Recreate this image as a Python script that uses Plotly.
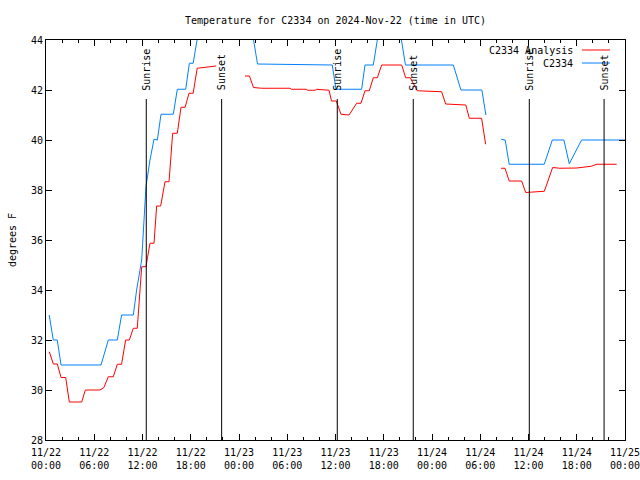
import pandas as pd
import plotly.graph_objects as go

BASE = pd.Timestamp("2024-11-22 00:00")

# hours since 2024-11-22 00:00 UTC, temperature in degrees F (None = gap)
analysis_hours = [0.41, 0.91, 1.41, 1.87, 2.45, 2.9, 4.44, 4.89, 6.71, 7.2, 7.75, 8.37, 8.87, 9.4, 9.9,
                  10.36, 10.86, 11.35, 11.9, 12.43, 12.93, 13.43, 13.76, 14.26, 14.8, 15.3, 15.75,
                  16.33, 16.79, 17.3, 17.78, 18.3, 18.8, 21.14, 22.0,
                  24.75, 25.3, 25.8, 26.8, 30.34, 30.5, 32.4, 32.5, 33.5, 33.6, 35.2, 35.5, 36.1,
                  36.68, 37.68, 38.63, 39.17, 39.67, 40.2, 40.7, 41.2, 41.74, 44.23, 44.73, 45.3,
                  46.17, 49.2, 49.7, 52.2, 52.64, 54.17, 54.67, 55.5,
                  56.58, 57.08, 57.6, 59.15, 59.65, 61.97, 63.0, 63.9, 66.0, 67.8, 68.5, 70.96]
analysis_temp = [31.53, 31.04, 31.04, 30.5, 30.5, 29.52, 29.52, 30.0, 30.0, 30.1, 30.53, 30.53, 31.03, 31.03, 32.0,
                 32.0, 32.47, 32.47, 34.93, 34.93, 35.87, 35.87, 37.36, 37.36, 38.33, 38.33, 40.27,
                 40.27, 41.31, 41.31, 41.87, 41.87, 42.87, 42.96, None,
                 42.56, 42.56, 42.1, 42.07, 42.07, 42.03, 42.03, 41.99, 41.99, 42.03, 41.99, 41.56, 41.56,
                 41.03, 41.0, 41.47, 41.47, 41.97, 41.97, 42.49, 42.49, 43.0, 43.0, 42.49, 42.49,
                 41.97, 41.93, 41.44, 41.4, 40.87, 40.87, 39.83, None,
                 38.87, 38.87, 38.36, 38.36, 37.9, 37.95, 38.9, 38.87, 38.88, 38.95, 39.03, 39.03]

obs_hours = [0.4, 0.9, 1.4, 1.87, 6.84, 7.75, 8.87, 9.4, 10.86, 11.27, 11.9, 12.43, 12.93, 13.43, 13.85,
             14.3, 15.83, 16.33, 17.37, 17.83, 18.3, 18.8, 19.3, 25.3, 25.8, 26.3,
             35.6, 36.06, 39.25, 39.67, 40.7, 41.2, 41.7, 43.7, 44.2, 44.7, 50.65, 51.6, 54.2, 54.7, 55.5,
             56.6, 57.1, 57.6, 61.96, 62.96, 64.4, 65.07, 66.6, 72.0]
obs_temp = [33.0, 32.0, 32.0, 31.0, 31.0, 32.0, 32.0, 33.0, 33.0, 34.0, 35.2, 38.13, 39.2, 40.03, 40.0,
            41.03, 41.03, 42.03, 42.03, 43.07, 43.07, 44.0, 45.0, 45.0, 44.0, 43.04,
            43.0, 42.03, 42.03, 43.0, 43.0, 44.0, 45.0, 45.0, 44.0, 43.0, 43.0, 42.0, 42.0, 41.0, None,
            40.03, 40.0, 39.03, 39.03, 40.0, 40.0, 39.05, 40.0, 40.0]

sun_hours = [12.47, 21.84, 36.22, 45.67, 60.1, 69.4]
sun_labels = ["Sunrise", "Sunset", "Sunrise", "Sunset", "Sunrise", "Sunset"]

tick_hours = list(range(0, 73, 6))
tick_labels = ["11/22<br>00:00", "11/22<br>06:00", "11/22<br>12:00", "11/22<br>18:00",
               "11/23<br>00:00", "11/23<br>06:00", "11/23<br>12:00", "11/23<br>18:00",
               "11/24<br>00:00", "11/24<br>06:00", "11/24<br>12:00", "11/24<br>18:00",
               "11/25<br>00:00"]
y_ticks = [28, 30, 32, 34, 36, 38, 40, 42, 44]

series_names = ["C2334 Analysis", "C2334"]
series_colors = ["#ff0000", "#0080ff"]

FONT = "DejaVu Sans Mono"


def to_time(hours):
    return [BASE + pd.Timedelta(hours=h) for h in hours]


fig = go.Figure()
fig.add_trace(go.Scatter(x=to_time(analysis_hours), y=analysis_temp, mode="lines",
                         line=dict(color=series_colors[0], width=1), connectgaps=False,
                         name=series_names[0], showlegend=False))
fig.add_trace(go.Scatter(x=to_time(obs_hours), y=obs_temp, mode="lines",
                         line=dict(color=series_colors[1], width=1), connectgaps=False,
                         name=series_names[1], showlegend=False))

for h, lab in zip(sun_hours, sun_labels):
    t = BASE + pd.Timedelta(hours=h)
    fig.add_shape(type="line", xref="x", yref="y", x0=t, x1=t, y0=28, y1=41.64,
                  line=dict(color="black", width=1))
    fig.add_annotation(x=t, y=41.9, xref="x", yref="y", text=lab, textangle=-90,
                       showarrow=False, xanchor="center", yanchor="bottom",
                       font=dict(family=FONT, size=10, color="black"))

# manual legend (text right-aligned, sample line on the right)
leg_y = [0.975, 0.9425]
for name, col, yy in zip(series_names, series_colors, leg_y):
    fig.add_annotation(x=0.9136, y=yy, xref="paper", yref="paper", text=name, showarrow=False,
                       xanchor="right", yanchor="middle", font=dict(family=FONT, size=10, color="black"))
    fig.add_shape(type="line", xref="paper", yref="paper", x0=0.9257, x1=0.974, y0=yy, y1=yy,
                  line=dict(color=col, width=1))

fig.update_layout(
    width=640, height=480,
    margin=dict(l=46, r=15, t=40, b=40),
    paper_bgcolor="white", plot_bgcolor="white",
    font=dict(family=FONT, size=10, color="black"),
    title=dict(text="Temperature for C2334 on 2024-Nov-22 (time in UTC)", x=0.5, xref="paper",
               xanchor="center", y=0.958, yanchor="middle", font=dict(family=FONT, size=10)),
    showlegend=False,
)
fig.update_xaxes(range=[BASE, BASE + pd.Timedelta(hours=72)], automargin=False,
                 tickmode="array", tickvals=to_time(tick_hours), ticktext=tick_labels,
                 ticks="inside", ticklen=6, tickcolor="black", showgrid=False, zeroline=False,
                 showline=True, linecolor="black", linewidth=1, mirror="ticks", ticklabelstandoff=3,
                 ticklabeloverflow="allow",
                 minor=dict(tickmode="array", tickvals=to_time(list(range(0, 73, 2))),
                            ticks="inside", ticklen=3, tickcolor="black", showgrid=False),
                 tickfont=dict(family=FONT, size=10))
fig.update_yaxes(range=[28, 44], automargin=False, tickvals=y_ticks, ticks="inside", ticklen=6,
                 tickcolor="black", showgrid=False, zeroline=False, showline=True, linecolor="black",
                 linewidth=1, mirror="ticks",
                 title=dict(text="degrees F", font=dict(family=FONT, size=10), standoff=12),
                 tickfont=dict(family=FONT, size=10))

fig.write_html("out.html")
